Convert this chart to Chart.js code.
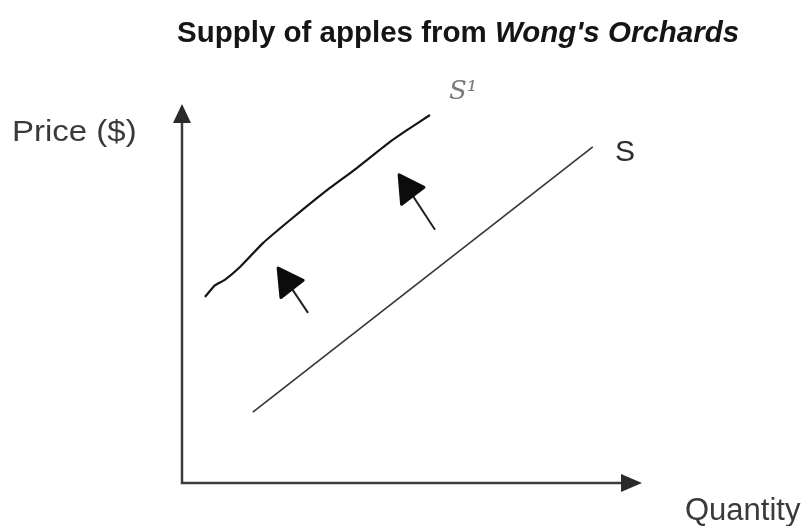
<!DOCTYPE html>
<html>
<head>
<meta charset="utf-8">
<script src="https://cdn.jsdelivr.net/npm/chart.js@4.4.1/dist/chart.umd.min.js"></script>
<style>
  html, body { margin: 0; padding: 0; background: #fff; }
  #wrap { position: relative; width: 808px; height: 526px; }
  #grafica { position: absolute; left: 0; top: 0; }
  .txt { position: absolute; font-family: "Liberation Sans", Arial, sans-serif; white-space: nowrap; line-height: 1; transform-origin: left top; }
  #titulo { left: 177px; top: 17px; font-size: 29.5px; font-weight: bold; color: #151515; }
  #eje-y { left: 12px; top: 116px; font-size: 30px; color: #3a3a3a; transform: scaleX(1.1); }
  #eje-x { left: 685px; top: 494px; font-size: 31px; color: #3a3a3a; }
</style>
</head>
<body>
<div id="wrap">
  <canvas id="grafica" width="808" height="526"></canvas>
  <div class="txt" id="titulo">Supply of apples from <i>Wong's Orchards</i></div>
  <div class="txt" id="eje-y">Price ($)</div>
  <div class="txt" id="eje-x">Quantity</div>
</div>
<script>
// curva de oferta original (recta)
const ofertaCantidad = [1.54, 8.93];
const ofertaPrecio = [1.87, 8.87];

// nueva curva de oferta, dibujada a mano (desplazada a la izquierda)
const ofertaNuevaCantidad = [0.50, 0.72, 0.93, 1.26, 1.76, 2.35, 3.07, 3.80, 4.52, 4.89, 5.39];
const ofertaNuevaPrecio = [4.91, 5.22, 5.36, 5.70, 6.33, 6.94, 7.65, 8.31, 9.00, 9.31, 9.71];

// flechas del desplazamiento: [cola, punta]
const flecha1Cantidad = [5.50, 4.72];
const flecha1Precio = [6.68, 8.13];
const flecha2Cantidad = [2.74, 2.09];
const flecha2Precio = [4.49, 5.67];

// etiquetas de las curvas
const etiquetas = ['S', 'S¹'];
const etiquetasCantidad = [9.63, 6.11];
const etiquetasPrecio = [8.71, 10.32];

const aPuntos = (xs, ys) => xs.map((x, i) => ({ x: x, y: ys[i] }));

// ejes con punta de flecha
const pluginEjes = {
    id: 'ejes',
    beforeDatasetsDraw(chart) {
        const ctx = chart.ctx;
        const sx = chart.scales.x, sy = chart.scales.y;
        const x0 = sx.getPixelForValue(0), x1 = sx.getPixelForValue(10);
        const y0 = sy.getPixelForValue(0), y1 = sy.getPixelForValue(10);
        ctx.save();
        ctx.strokeStyle = '#3c3c3c';
        ctx.fillStyle = '#2a2a2a';
        ctx.lineWidth = 2.5;
        ctx.beginPath();
        ctx.moveTo(x0, y1 + 14);
        ctx.lineTo(x0, y0);
        ctx.lineTo(x1 - 14, y0);
        ctx.stroke();
        ctx.beginPath();
        ctx.moveTo(x0, y1);
        ctx.lineTo(x0 - 9, y1 + 19);
        ctx.lineTo(x0 + 9, y1 + 19);
        ctx.closePath();
        ctx.fill();
        ctx.beginPath();
        ctx.moveTo(x1, y0);
        ctx.lineTo(x1 - 21, y0 - 9);
        ctx.lineTo(x1 - 21, y0 + 9);
        ctx.closePath();
        ctx.fill();
        ctx.restore();
    }
};

// puntas rellenas al final de los datasets marcados como flecha, y etiquetas S / S¹
const pluginFlechas = {
    id: 'flechas',
    afterDatasetsDraw(chart) {
        const ctx = chart.ctx;
        chart.data.datasets.forEach((ds, i) => {
            if (!ds.flecha) return;
            const pts = chart.getDatasetMeta(i).data;
            const a = pts[pts.length - 2], b = pts[pts.length - 1];
            const ang = Math.atan2(b.y - a.y, b.x - a.x);
            const largo = 26, ancho = 14;
            ctx.save();
            ctx.translate(b.x, b.y);
            ctx.rotate(ang);
            ctx.fillStyle = '#0c0c0c';
            ctx.strokeStyle = '#0c0c0c';
            ctx.lineWidth = 3;
            ctx.lineJoin = 'round';
            ctx.beginPath();
            ctx.moveTo(0, 0);
            ctx.lineTo(-largo, -ancho);
            ctx.lineTo(-largo + 2, ancho);
            ctx.closePath();
            ctx.fill();
            ctx.stroke();
            ctx.restore();
        });

        const sx = chart.scales.x, sy = chart.scales.y;
        ctx.save();
        ctx.textAlign = 'center';
        ctx.textBaseline = 'middle';
        ctx.fillStyle = '#2c2c2c';
        ctx.font = '30px "Liberation Sans", Arial, sans-serif';
        ctx.fillText(etiquetas[0], sx.getPixelForValue(etiquetasCantidad[0]), sy.getPixelForValue(etiquetasPrecio[0]));
        ctx.fillStyle = '#7a7a7a';
        ctx.font = 'italic 26px "DejaVu Serif", serif';
        ctx.fillText(etiquetas[1], sx.getPixelForValue(etiquetasCantidad[1]), sy.getPixelForValue(etiquetasPrecio[1]));
        ctx.restore();
    }
};

const linea = (datos, color, grosor, extra) => Object.assign({
    data: datos,
    showLine: true,
    borderColor: color,
    borderWidth: grosor,
    pointRadius: 0,
    fill: false
}, extra || {});

new Chart(document.getElementById('grafica').getContext('2d'), {
    type: 'scatter',
    data: {
        datasets: [
            linea(aPuntos(ofertaCantidad, ofertaPrecio), '#383838', 1.7),
            linea(aPuntos(ofertaNuevaCantidad, ofertaNuevaPrecio), '#151515', 2.2, { tension: 0.15 }),
            linea(aPuntos(flecha1Cantidad, flecha1Precio), '#222', 2, { flecha: true }),
            linea(aPuntos(flecha2Cantidad, flecha2Precio), '#222', 2, { flecha: true })
        ]
    },
    options: {
        responsive: false,
        animation: false,
        layout: { padding: { left: 182, right: 166, top: 104, bottom: 43 } },
        plugins: { legend: { display: false }, tooltip: { enabled: false } },
        scales: {
            x: { type: 'linear', min: 0, max: 10, display: false },
            y: { type: 'linear', min: 0, max: 10, display: false }
        }
    },
    plugins: [pluginEjes, pluginFlechas]
});
</script>
</body>
</html>
